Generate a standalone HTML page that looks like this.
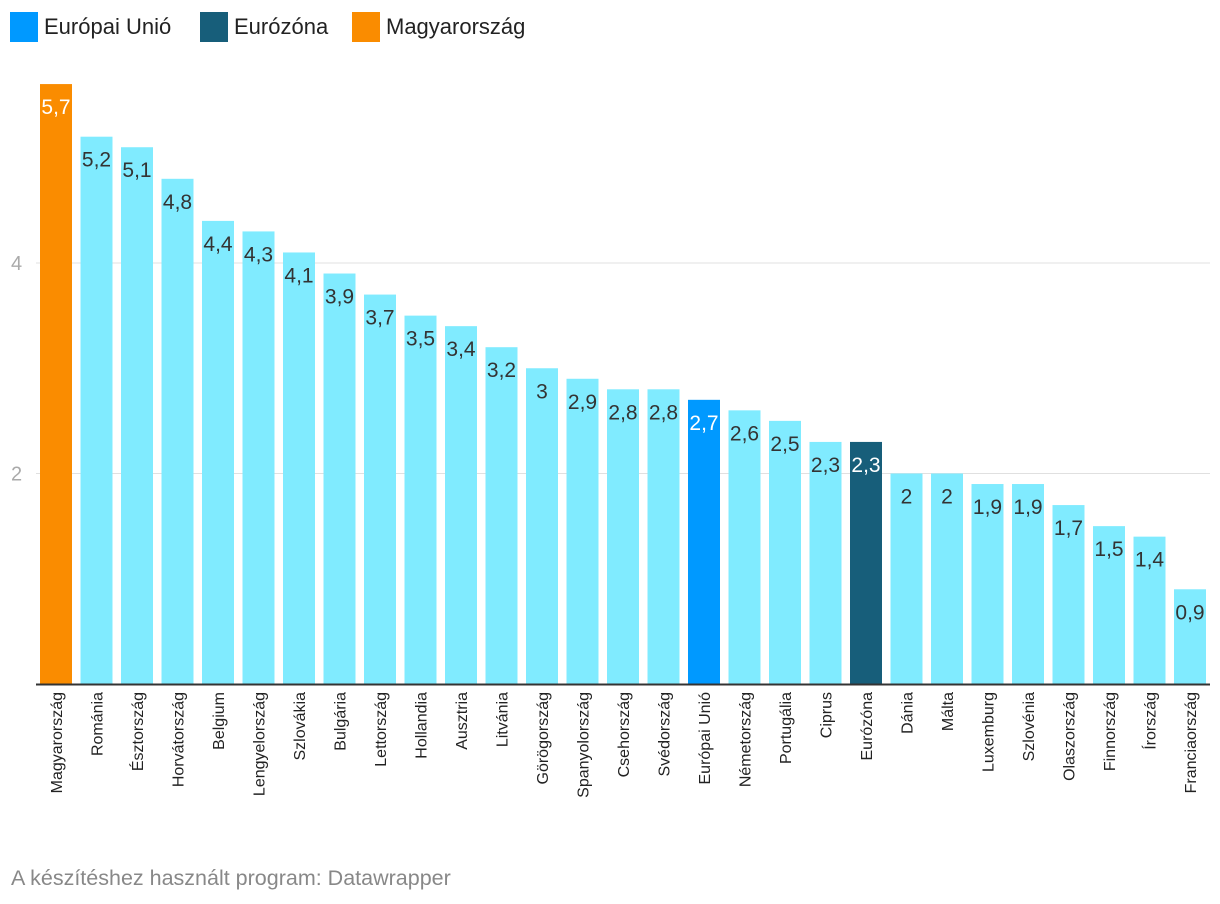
<!DOCTYPE html>
<html><head><meta charset="utf-8"><style>
body{margin:0;background:#fff;font-family:"Liberation Sans",sans-serif;}
#wrap{position:relative;width:1220px;height:904px;overflow:hidden;}
.leg{position:absolute;top:12px;height:30px;display:flex;align-items:center;font-size:22px;color:#222;}
.leg span.sw{display:inline-block;width:28px;height:30px;margin-right:6px;}
#foot{position:absolute;left:11px;top:866px;font-size:21.5px;color:#888;}
</style></head><body>
<div id="wrap">
<div class="leg" style="left:10px"><span class="sw" style="background:#0099ff"></span>Európai Unió</div>
<div class="leg" style="left:200px"><span class="sw" style="background:#175e7a"></span>Eurózóna</div>
<div class="leg" style="left:352px"><span class="sw" style="background:#fa8c00"></span>Magyarország</div>
<svg id="svg" width="1220" height="904" style="position:absolute;left:0;top:0"></svg>
<div id="foot">A készítéshez használt program: Datawrapper</div>
</div>
<script>
const categories=["Magyarország","Románia","Észtország","Horvátország","Belgium","Lengyelország","Szlovákia","Bulgária","Lettország","Hollandia","Ausztria","Litvánia","Görögország","Spanyolország","Csehország","Svédország","Európai Unió","Németország","Portugália","Ciprus","Eurózóna","Dánia","Málta","Luxemburg","Szlovénia","Olaszország","Finnország","Írország","Franciaország"];
const values=[5.7,5.2,5.1,4.8,4.4,4.3,4.1,3.9,3.7,3.5,3.4,3.2,3,2.9,2.8,2.8,2.7,2.6,2.5,2.3,2.3,2,2,1.9,1.9,1.7,1.5,1.4,0.9];
const yTicks=[2,4];
const special={"Magyarország":"#fa8c00","Európai Unió":"#0099ff","Eurózóna":"#175e7a"};
const NS="http://www.w3.org/2000/svg";
const svg=document.getElementById('svg');
const y0=684,unit=105.25,x0=40,step=40.5,bw=32;
const y=v=>y0-v*unit;
const x=i=>x0+i*step;
function mk(t,a){const e=document.createElementNS(NS,t);for(const k in a)e.setAttribute(k,a[k]);svg.appendChild(e);return e;}
yTicks.forEach(t=>{
 const g=mk('line',{x1:36,x2:1210,y1:y(t),y2:y(t),stroke:'#e0e0e0','stroke-width':1});
 
 
 const l=mk('text',{x:11,y:y(t)+7,'font-size':20,fill:'#aaa'});l.textContent=t;
 
 
});
categories.forEach((c,i)=>{
 const v=values[i];const col=special[c]||'#80ebff';
 const r=mk('rect',{x:x(i),y:y(v),width:bw,height:v*unit,fill:col});
 
 
 const white=!!special[c];
 const t=mk('text',{x:x(i)+bw/2,y:y(v)+30,'text-anchor':'middle','font-size':21,fill:white?'#fff':'#333'});
 t.textContent=String(v).replace('.',',');
 
 
 const cx=x(i)+bw/2+6;
 const lb=mk('text',{x:cx,y:692,'text-anchor':'end','font-size':16,fill:'#222',transform:`rotate(-90 ${cx} 692)`});
 lb.textContent=c;
 
 
});
const ax=mk('line',{x1:36,x2:1210,y1:y0+0.5,y2:y0+0.5,stroke:'#333','stroke-width':2});


</script>
</body></html>
